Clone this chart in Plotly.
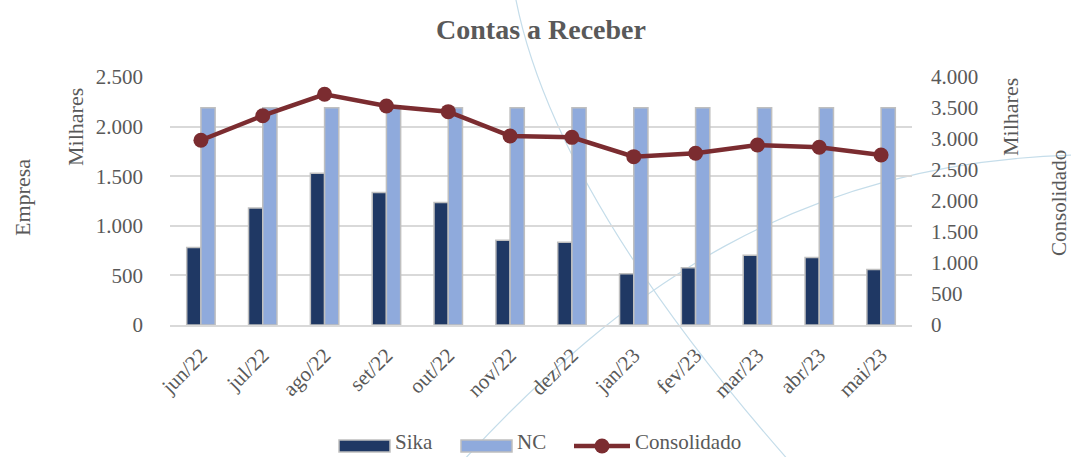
import plotly.graph_objects as go

categories = ["jun/22", "jul/22", "ago/22", "set/22", "out/22", "nov/22",
              "dez/22", "jan/23", "fev/23", "mar/23", "abr/23", "mai/23"]
sika = [780, 1180, 1530, 1335, 1235, 855, 835, 516, 576, 704, 681, 560]
nc = [2190, 2190, 2190, 2190, 2190, 2190, 2190, 2190, 2190, 2190, 2190, 2190]
consolidado = [2980, 3376, 3721, 3532, 3441, 3048, 3027, 2715, 2769, 2903, 2866, 2742]
series_names = ["Sika", "NC", "Consolidado"]

W, H = 1071, 457
L, R, T, B = 170, 912, 77, 325
FONT = "Liberation Serif"
GREY = "#595959"
C_SIKA, C_NC, C_CONS, C_EDGE = "#1F3864", "#8FAADC", "#7B2C30", "#BFBFBF"

def px(x, y):
    return (x - L) / (R - L), (B - y) / (B - T)

def path_q(p0, c, p1):
    a, b, d = px(*p0), px(*c), px(*p1)
    return f"M {a[0]},{a[1]} Q {b[0]},{b[1]} {d[0]},{d[1]}"

def path_c(p0, c1, c2, p1):
    a, b, c, d = px(*p0), px(*c1), px(*c2), px(*p1)
    return f"M {a[0]},{a[1]} C {b[0]},{b[1]} {c[0]},{c[1]} {d[0]},{d[1]}"

fig = go.Figure()
fig.add_trace(go.Bar(x=categories, y=sika, name=series_names[0],
                     marker=dict(color=C_SIKA, line=dict(color=C_EDGE, width=1.5))))
fig.add_trace(go.Bar(x=categories, y=nc, name=series_names[1],
                     marker=dict(color=C_NC, line=dict(color=C_EDGE, width=1.5))))
fig.add_trace(go.Scatter(x=categories, y=consolidado, name=series_names[2], yaxis="y2",
                         mode="lines+markers",
                         line=dict(color=C_CONS, width=4.5),
                         marker=dict(color=C_CONS, size=15)))

def rect(x0, y0, x1, y1, fill, edge, width=1.5):
    a, b = px(x0, y1), px(x1, y0)
    return dict(type="rect", xref="paper", yref="paper", x0=a[0], y0=a[1], x1=b[0], y1=b[1],
                fillcolor=fill, line=dict(color=edge, width=width), layer="above")

LEG_Y = 446
shapes = [
    dict(type="path", xref="paper", yref="paper", layer="below",
         path=path_q((515, -5), (552, 192), (790, 462)),
         line=dict(color="#C5DDEA", width=1.2)),
    dict(type="path", xref="paper", yref="paper", layer="below",
         path=path_c((462, 462), (620, 290), (800, 160), (1080, 155)),
         line=dict(color="#C5DDEA", width=1.2)),
    # legend keys
    rect(339, LEG_Y - 6, 390, LEG_Y + 6, C_SIKA, C_EDGE),
    rect(461, LEG_Y - 6, 512, LEG_Y + 6, C_NC, C_EDGE),
    dict(type="line", xref="paper", yref="paper",
         x0=px(574, 0)[0], x1=px(630, 0)[0], y0=px(0, LEG_Y)[1], y1=px(0, LEG_Y)[1],
         line=dict(color=C_CONS, width=4.5), layer="above"),
    dict(type="circle", xref="paper", yref="paper",
         x0=px(594.5, 0)[0], x1=px(609.5, 0)[0],
         y0=px(0, LEG_Y + 7.5)[1], y1=px(0, LEG_Y - 7.5)[1],
         fillcolor=C_CONS, line=dict(color=C_CONS, width=0), layer="above"),
]

def label(text, x, y, angle=0, xanchor="center", size=22, yanchor="middle"):
    return dict(text=text, x=px(x, 0)[0], y=px(0, y)[1], xref="paper", yref="paper",
                showarrow=False, textangle=angle, xanchor=xanchor, yanchor=yanchor,
                font=dict(family=FONT, size=size, color=GREY))

annotations = [
    label("Milhares", 75, 127, -90),
    label("Empresa", 22, 198, -90),
    label("Milhares", 1010, 117, -90),
    label("Consolidado", 1059, 203, -90, size=21),
    label(series_names[0], 393, 456, 0, "left", 21, "bottom"),
    label(series_names[1], 515, 456, 0, "left", 21, "bottom"),
    label(series_names[2], 633, 456, 0, "left", 21, "bottom"),
]

fig.update_layout(
    width=W, height=H,
    margin=dict(l=L, r=W - R, t=T, b=H - B, autoexpand=False),
    paper_bgcolor="white", plot_bgcolor="rgba(0,0,0,0)",
    separators=",.",
    showlegend=False,
    title=dict(text="<b>Contas a Receber</b>", x=0.5, xref="paper", xanchor="center",
               y=1 - 29 / H, yanchor="middle",
               font=dict(family=FONT, size=28, color=GREY)),
    barmode="group", bargap=0.54, bargroupgap=0,
    font=dict(family=FONT, size=21, color=GREY),
    xaxis=dict(type="category", range=[-0.5, len(categories) - 0.5],
               tickangle=-45, showline=True, linecolor="#D9D9D9",
               linewidth=1.5, showgrid=False, ticks="", automargin=False,
               ticklabelstandoff=8,
               tickfont=dict(family=FONT, size=21, color=GREY)),
    yaxis=dict(range=[0, 2500], dtick=500, tickformat=",d", showgrid=True,
               gridcolor="#D9D9D9", gridwidth=1.5, zeroline=False, ticks="",
               ticklabelstandoff=26, automargin=False,
               tickfont=dict(family=FONT, size=21, color=GREY)),
    yaxis2=dict(range=[0, 4000], dtick=500, tickformat=",d", overlaying="y", side="right",
                showgrid=False, zeroline=False, ticks="", ticklabelstandoff=18,
                automargin=False,
                tickfont=dict(family=FONT, size=21, color=GREY)),
    shapes=shapes,
    annotations=annotations,
)

fig.write_html("out.html", config={"displayModeBar": False},
               post_script="document.body.style.margin='0';document.body.style.overflow='hidden';")
